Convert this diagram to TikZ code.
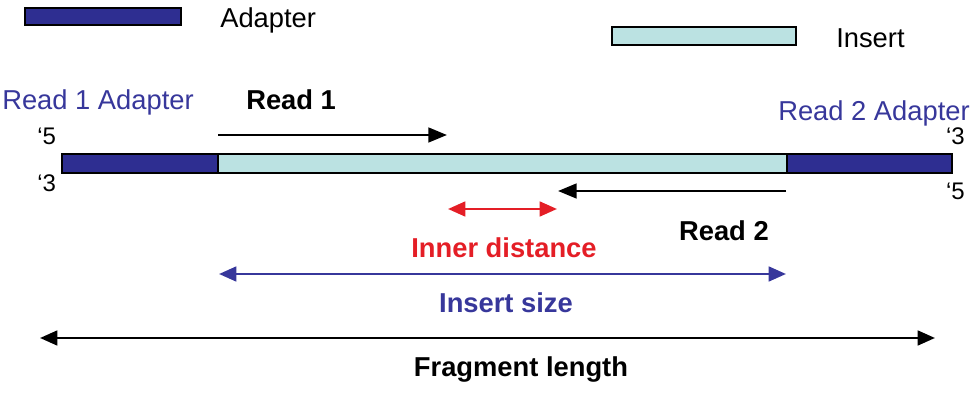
\documentclass[tikz,border=0pt]{standalone}
\usepackage{fontspec}
\setmainfont{Liberation Sans}
\usetikzlibrary{arrows.meta}

\definecolor{adapterblue}{RGB}{46,46,145}
\definecolor{insertcyan}{RGB}{187,226,226}
\definecolor{labelblue}{RGB}{55,55,155}
\definecolor{innerred}{RGB}{228,30,38}

\tikzset{
  lbl/.style={inner sep=0pt, font=\fontsize{20.5}{24}\selectfont},
  blbl/.style={inner sep=0pt, font=\fontsize{20.5}{24}\selectfont\bfseries},
  endlbl/.style={inner sep=0pt, font=\fontsize{18}{20}\selectfont},
  seg/.style={draw=black, line width=1.2pt},
  readarrow/.style={line width=2pt, -{Triangle[length=14pt,width=11pt]}},
  dimarrow/.style={line width=2pt, {Triangle[length=13pt,width=11pt]}-{Triangle[length=13pt,width=11pt]}},
}

\begin{document}
\begin{tikzpicture}[x=0.75pt, y=-0.75pt]
\useasboundingbox (0,0) rectangle (975,402);

% legend
\draw[seg, fill=adapterblue] (25,8) rectangle (181,25);
\node[lbl, anchor=base west] (adapterkey) at (220,28) {Adapter};
\draw[seg, fill=insertcyan] (612,27) rectangle (796,45);
\node[lbl, anchor=base west] (insertkey) at (836,48) {Insert};

% fragment
\draw[seg, fill=adapterblue] (62,154) rectangle (218,173);
\draw[seg, fill=insertcyan] (218,154) rectangle (787,173);
\draw[seg, fill=adapterblue] (787,154) rectangle (952,173);

\node[lbl, text=labelblue, anchor=base west] (read1adapter) at (2,110) {Read 1 Adapter};
\node[lbl, text=labelblue, anchor=base east] (read2adapter) at (970,121) {Read 2 Adapter};
\node[endlbl, anchor=base west] (left5) at (37,145) {`5};
\node[endlbl, anchor=base west] (left3) at (37,192) {`3};
\node[endlbl, anchor=base east] (right3) at (965,145) {`3};
\node[endlbl, anchor=base east] (right5) at (965,200) {`5};

% reads
\coordinate (r1start) at (218,135);
\coordinate (r1end) at (447,135);
\draw[readarrow] (r1start) -- (r1end);
\node[blbl, anchor=base west] (read1) at (246,110) {Read 1};

\coordinate (r2start) at (786,191);
\coordinate (r2end) at (558,191);
\draw[readarrow] (r2start) -- (r2end);
\node[blbl, anchor=base east] (read2) at (769,241) {Read 2};

% distances
\coordinate (innerL) at (448,209);
\coordinate (innerR) at (557,209);
\draw[dimarrow, innerred] (innerL) -- (innerR);
\node[blbl, text=innerred, anchor=base] (innerlbl) at (504,258) {Inner distance};

\coordinate (insertL) at (219,274);
\coordinate (insertR) at (786,274);
\draw[dimarrow, labelblue] (insertL) -- (insertR);
\node[blbl, text=labelblue, anchor=base] (insertlbl) at (506,313) {Insert size};

\coordinate (fragL) at (40,338);
\coordinate (fragR) at (935,338);
\draw[dimarrow] (fragL) -- (fragR);
\node[blbl, anchor=base] (fraglbl) at (521,377) {Fragment length};

\end{tikzpicture}
\end{document}
